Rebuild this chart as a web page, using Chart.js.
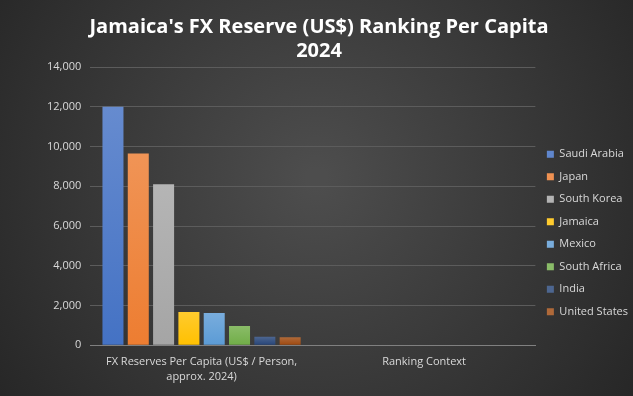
<!DOCTYPE html>
<html>
<head>
<meta charset="utf-8">
<script src="https://cdn.jsdelivr.net/npm/chart.js@4/dist/chart.umd.min.js"></script>
<style>
  html, body { margin: 0; padding: 0; background: #2e2e2e; }
  #wrap { width: 633px; height: 396px; }
</style>
</head>
<body>
<div id="wrap"><canvas id="fxChart"></canvas></div>
<script>
// data
var categories = [["FX Reserves Per Capita (US$ / Person,", "approx. 2024)"], "Ranking Context"];
var countries = ["Saudi Arabia", "Japan", "South Korea", "Jamaica", "Mexico", "South Africa", "India", "United States"];
var perCapita = [12000, 9650, 8100, 1680, 1630, 970, 430, 400];
var colours = ["#4472C4", "#ED7D31", "#A5A5A5", "#FFC000", "#5B9BD5", "#70AD47", "#264478", "#9E480E"];
var yTicks = [0, 2000, 4000, 6000, 8000, 10000, 12000, 14000];

function lighten(hex, amt) {
  var n = parseInt(hex.slice(1), 16);
  var r = (n >> 16) & 255, g = (n >> 8) & 255, b = n & 255;
  r = Math.round(r + (255 - r) * amt); g = Math.round(g + (255 - g) * amt); b = Math.round(b + (255 - b) * amt);
  return "rgb(" + r + "," + g + "," + b + ")";
}

// each bar gets a light-to-base vertical gradient like the Office style
function barFill(base) {
  return function (c) {
    var chart = c.chart;
    if (!chart.chartArea || c.raw == null) return base;
    var y = chart.scales.y;
    var top = y.getPixelForValue(c.raw), bottom = y.getPixelForValue(0);
    if (!(bottom > top)) return base;
    var g = chart.ctx.createLinearGradient(0, top, 0, bottom);
    g.addColorStop(0, lighten(base, 0.18));
    g.addColorStop(1, base);
    return g;
  };
}

var bgPlugin = {
  id: "bg",
  beforeDraw: function (chart) {
    var ctx = chart.ctx, w = chart.width, h = chart.height;
    var g = ctx.createRadialGradient(w / 2, h * 0.45, 10, w / 2, h * 0.45, w * 0.62);
    g.addColorStop(0, "#4d4d4d");
    g.addColorStop(1, "#262626");
    ctx.save();
    ctx.fillStyle = g;
    ctx.fillRect(0, 0, w, h);
    ctx.restore();
  }
};

var datasets = countries.map(function (name, i) {
  return {
    label: name,
    data: [perCapita[i], null],
    backgroundColor: barFill(colours[i]),
    borderWidth: 0
  };
});

var ctx = document.getElementById("fxChart");
new Chart(ctx, {
  type: "bar",
  data: { labels: categories, datasets: datasets },
  plugins: [bgPlugin],
  options: {
    responsive: true,
    maintainAspectRatio: false,
    animation: false,
    layout: { padding: { left: 0, right: -5, top: 6, bottom: 3 } },
    datasets: { bar: { categoryPercentage: 0.91, barPercentage: 0.83 } },
    plugins: {
      title: {
        display: true,
        text: ["Jamaica's FX Reserve (US$) Ranking Per Capita", "2024"],
        color: "#ffffff",
        font: { family: "Open Sans", size: 20, weight: "bold", lineHeight: 1.2 },
        padding: { top: 9, bottom: 4 }
      },
      legend: {
        position: "right",
        title: { display: true, text: "", padding: { top: 54, bottom: 0 }, font: { size: 11 } },
        labels: {
          color: "#d9d9d9",
          font: { family: "Open Sans", size: 11 },
          boxWidth: 7,
          boxHeight: 7,
          padding: 11.5
        }
      },
      tooltip: { enabled: false }
    },
    scales: {
      x: {
        grid: { display: false, drawTicks: false },
        border: { color: "#808080", width: 1 },
        ticks: { color: "#d9d9d9", font: { family: "Open Sans", size: 11, lineHeight: 1.35 }, padding: 9, maxRotation: 0, autoSkip: false }
      },
      y: {
        min: 0,
        max: 14000,
        afterBuildTicks: function (axis) { axis.ticks = yTicks.map(function (v) { return { value: v }; }); },
        afterFit: function (axis) { axis.width += 38; },
        grid: { color: "#5c5c5c", drawTicks: false },
        border: { display: false },
        ticks: { color: "#d9d9d9", font: { family: "Open Sans", size: 11 }, padding: 9 }
      }
    }
  }
});
</script>
</body>
</html>
